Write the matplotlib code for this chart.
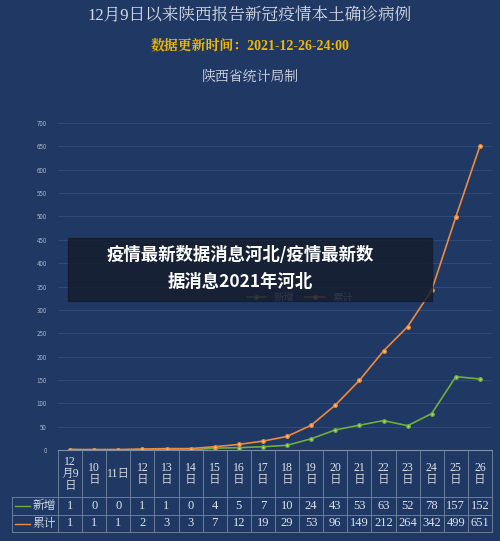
import matplotlib
matplotlib.use("Agg")
import matplotlib.pyplot as plt
from matplotlib.patches import Rectangle

plt.rcParams['font.family'] = ['Noto Sans CJK SC', 'DejaVu Sans']

dates = ["12\n月9\n日", "10\n日", "11日", "12\n日", "13\n日", "14\n日", "15\n日", "16\n日", "17\n日",
         "18\n日", "19\n日", "20\n日", "21\n日", "22\n日", "23\n日", "24\n日", "25\n日", "26\n日"]
new_cases = [1, 0, 0, 1, 1, 0, 4, 5, 7, 10, 24, 43, 53, 63, 52, 78, 157, 152]
cumulative = [1, 1, 1, 2, 3, 3, 7, 12, 19, 29, 53, 96, 149, 212, 264, 342, 499, 651]
yticks = list(range(0, 701, 50))

W, H = 500, 541
bg = "#1f3864"
fig = plt.figure(figsize=(5, 5.41), dpi=100, facecolor=bg)

def fx(px): return px / W
def fy(py): return 1 - py / H

L, R, T, B = 58, 492, 123, 450
ax = fig.add_axes([fx(L), fy(B), fx(R) - fx(L), fy(T) - fy(B)])
ax.set_facecolor(bg)
n = len(dates)
x = list(range(n))
ax.plot(x, new_cases, color="#6fae3c", lw=1.2, marker="o", ms=2.5, mfc="#b5e08a", mec="#6fae3c", label="新增")
ax.plot(x, cumulative, color="#ee8a3c", lw=1.2, marker="o", ms=2.5, mfc="#ffd08a", mec="#ee8a3c", label="累计")
ax.set_xlim(-0.5, n - 0.5)
ax.set_ylim(0, 700)
ax.set_yticks(yticks)
ax.tick_params(axis='y', labelsize=4.5, colors="#a8b4c8", length=0, pad=8)
ax.set_xticks([])
ax.grid(axis='y', color="#2e4a78", lw=0.8)
for s in ax.spines.values():
    s.set_visible(False)
ax.spines['bottom'].set_visible(True)
ax.spines['bottom'].set_color("#8090a8")

serif = ['Liberation Serif', 'Noto Serif CJK SC', 'Noto Sans CJK SC']
fig.text(0.5, fy(16), "12月9日以来陕西报告新冠疫情本土确诊病例", ha='center', va='center',
         color="#d8dde8", fontsize=12, family=serif)
fig.text(0.5, fy(45), "数据更新时间：2021-12-26-24:00", ha='center', va='center',
         color="#f0b800", fontsize=10, fontweight='bold', family=serif)
fig.text(0.5, fy(77), "陕西省统计局制", ha='center', va='center', color="#d8dde8", fontsize=10, family=serif)

lc = "#7888a0"
rows_y = [450, 497, 515, 532]
cw = (R - L) / n
tc = "#e0e4ec"
for yy in rows_y[1:]:
    fig.add_artist(plt.Line2D([fx(12), fx(R)], [fy(yy), fy(yy)], color=lc, lw=0.6))
for i in range(n + 1):
    xx = L + i * cw
    fig.add_artist(plt.Line2D([fx(xx), fx(xx)], [fy(450), fy(532)], color=lc, lw=0.6))
fig.add_artist(plt.Line2D([fx(12), fx(12)], [fy(497), fy(532)], color=lc, lw=0.6))
for i in range(n):
    cx = fx(L + (i + 0.5) * cw)
    fig.text(cx, fy(474), dates[i], ha='center', va='center', color=tc, fontsize=8.5,
             family=serif, linespacing=1.0)
    fig.text(cx, fy(506), str(new_cases[i]), ha='center', va='center', color=tc, fontsize=9, family=serif)
    fig.text(cx, fy(523.5), str(cumulative[i]), ha='center', va='center', color=tc, fontsize=9, family=serif)
for yy, lab, col in [(506, "新增", "#6fae3c"), (523.5, "累计", "#ee8a3c")]:
    fig.add_artist(plt.Line2D([fx(15), fx(30)], [fy(yy), fy(yy)], color=col, lw=1))
    fig.text(fx(44), fy(yy), lab, ha='center', va='center', color=tc, fontsize=8.5, family=serif)

leg = fig.legend(loc='center', bbox_to_anchor=(fx(300), fy(298)), ncol=2, frameon=False,
                 fontsize=7.5, labelcolor="#a8b4c8", handlelength=1.8, columnspacing=1)

fig.add_artist(Rectangle((fx(68), fy(301)), fx(432) - fx(68), fy(238) - fy(301),
                         transform=fig.transFigure, color="#151c2c", alpha=0.82, zorder=10))
fig.text(fx(240), fy(255), "疫情最新数据消息河北/疫情最新数", ha='center', va='center', color="white",
         fontsize=12.5, fontweight='bold', zorder=11)
fig.text(fx(240), fy(282), "据消息2021年河北", ha='center', va='center', color="white",
         fontsize=12.5, fontweight='bold', zorder=11)

fig.savefig("out.png", dpi=100, facecolor=bg)
